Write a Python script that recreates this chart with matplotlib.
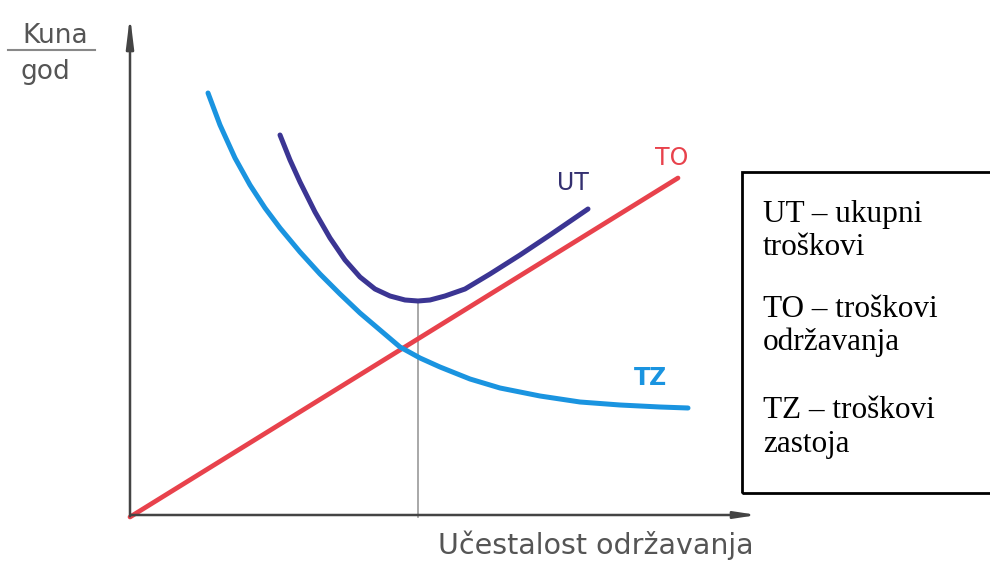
import numpy as np
import matplotlib.pyplot as plt
from matplotlib.patches import Rectangle

# curve points (origin = where the axes meet)
to_x = [0, 54.8]
to_y = [0, 33.9]

tz_x = [7.8, 9.0, 10.5, 12.0, 13.5, 15.0, 17.0, 19.0, 21.0, 23.0, 25.0, 27.0, 29.0, 31.0, 34.0, 37.0, 41.0, 45.0, 49.0, 53.0, 55.8]
tz_y = [42.4, 39.2, 35.9, 33.2, 30.9, 28.9, 26.5, 24.3, 22.3, 20.4, 18.7, 17.0, 15.9, 15.0, 13.8, 12.9, 12.1, 11.5, 11.2, 11.0, 10.9]

ut_x = [15.0, 16.0, 17.0, 18.5, 20.0, 21.5, 23.0, 24.5, 26.0, 27.5, 28.8, 30.0, 31.5, 33.5, 36.0, 39.0, 42.0, 45.8]
ut_y = [38.2, 35.7, 33.5, 30.5, 27.9, 25.7, 24.0, 22.8, 22.1, 21.7, 21.6, 21.7, 22.1, 22.8, 24.3, 26.2, 28.2, 30.8]

x_opt = 28.8
ut_min = 21.6

legend_lines = ["UT – ukupni", "troškovi", "TO – troškovi", "održavanja", "TZ – troškovi", "zastoja"]
legend_base = [29.5, 26.2, 20.0, 16.7, 9.9, 6.5]

fig = plt.figure(figsize=(9.9, 5.62), dpi=100)
ax = fig.add_axes([0, 0, 1, 1])
ax.set_xlim(-13, 86)
ax.set_ylim(-4.5, 51.7)
ax.axis("off")

axis_col = "#444444"
txt_col = "#555555"

# axes with arrows
ax.annotate("", xy=(0, 50.4), xytext=(0, -0.2),
            arrowprops=dict(arrowstyle="-|>,head_length=1.8,head_width=0.22", color=axis_col, lw=1.8))
ax.annotate("", xy=(63.0, 0.2), xytext=(-0.2, 0.2),
            arrowprops=dict(arrowstyle="-|>,head_length=1.3,head_width=0.2", color=axis_col, lw=1.8))

ax.plot([x_opt, x_opt], [0, ut_min], color="#999999", lw=1.2)

ax.plot(to_x, to_y, color="#e8424c", lw=3.4, solid_capstyle="round")
ax.plot(tz_x, tz_y, color="#1a94e0", lw=3.6, solid_capstyle="round")
ax.plot(ut_x, ut_y, color="#3b3593", lw=3.6, solid_capstyle="round")

ax.text(44.3, 33.4, "UT", color="#343070", fontsize=17, ha="center", va="center")
ax.text(54.2, 35.9, "TO", color="#e8424c", fontsize=17, ha="center", va="center")
ax.text(52.0, 13.9, "TZ", color="#1a94e0", fontsize=17, ha="center", va="center", fontweight="bold")

# axis titles
ax.text(-7.5, 48.1, "Kuna", color=txt_col, fontsize=19, ha="center", va="center")
ax.plot([-12.2, -3.5], [46.7, 46.7], color="#888888", lw=1.5)
ax.text(-8.5, 44.5, "god", color=txt_col, fontsize=19, ha="center", va="center")
ax.text(46.6, -2.8, "Učestalost održavanja", color=txt_col, fontsize=20.5, ha="center", va="center")

# explanation box
ax.add_patch(Rectangle((61.2, 2.4), 26, 32.1, fill=False, ec="black", lw=2, clip_on=False))
for s, yb in zip(legend_lines, legend_base):
    ax.text(63.3, yb, s, family="Liberation Serif", fontsize=22.5, ha="left", va="baseline", color="black")

fig.savefig("out.png", dpi=100)
